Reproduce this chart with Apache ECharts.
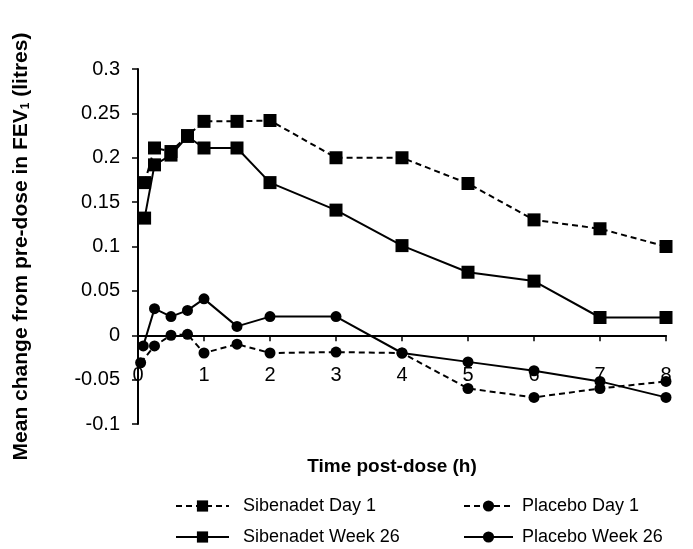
<!DOCTYPE html>
<html>
<head>
<meta charset="utf-8">
<script src="https://cdn.jsdelivr.net/npm/echarts@6/dist/echarts.min.js"></script>
<style>html,body{margin:0;padding:0;background:#fff}#c{width:693px;height:549px}</style>
</head>
<body>
<div id="c"></div>
<script>
const timesSibenadet = [0.1, 0.25, 0.5, 0.75, 1, 1.5, 2, 3, 4, 5, 6, 7, 8];
const timesPlaceboDay1 = [0.04, 0.25, 0.5, 0.75, 1, 1.5, 2, 3, 4, 5, 6, 7, 8];
const timesPlaceboWeek26 = [0.08, 0.25, 0.5, 0.75, 1, 1.5, 2, 3, 4, 5, 6, 7, 8];
const sibenadetDay1 = [0.172, 0.211, 0.207, 0.225, 0.241, 0.241, 0.242, 0.200, 0.200, 0.171, 0.130, 0.120, 0.100];
const sibenadetWeek26 = [0.132, 0.192, 0.203, 0.224, 0.211, 0.211, 0.172, 0.141, 0.101, 0.071, 0.061, 0.020, 0.020];
const placeboDay1 = [-0.031, -0.012, 0.000, 0.001, -0.020, -0.010, -0.020, -0.019, -0.020, -0.060, -0.070, -0.060, -0.052];
const placeboWeek26 = [-0.012, 0.030, 0.021, 0.028, 0.041, 0.010, 0.021, 0.021, -0.020, -0.030, -0.040, -0.052, -0.070];
const seriesNames = ['Sibenadet Day 1', 'Sibenadet Week 26', 'Placebo Day 1', 'Placebo Week 26'];
const xTitle = 'Time post-dose (h)';

const zip = (xs, ys) => xs.map((x, i) => [x, ys[i]]);
const font = 'Liberation Sans, Arial, sans-serif';

function mk(name, xs, ys, symbol, dashed, size) {
  return {
    name, type: 'line', data: zip(xs, ys), symbol, symbolSize: size,
    itemStyle: { color: '#000' },
    lineStyle: { color: '#000', width: 2, type: dashed ? [6, 4] : 'solid' },
    emphasis: { disabled: true }, animation: false
  };
}

const chart = echarts.init(document.getElementById('c'));
chart.setOption({
  backgroundColor: '#fff',
  animation: false,
  grid: { left: 138, right: 27, top: 69, bottom: 125, outerBoundsMode: 'none', containLabel: false },
  xAxis: {
    type: 'value', min: 0, max: 8, interval: 1,
    name: xTitle, nameLocation: 'middle', nameGap: 33,
    nameTextStyle: { fontFamily: font, fontSize: 19, fontWeight: 'bold', color: '#000', padding: [0, 20, 0, 0] },
    axisLine: { onZero: true, lineStyle: { color: '#000', width: 2 } },
    axisTick: { show: true, length: 6, lineStyle: { color: '#000', width: 1.5 } },
    axisLabel: { margin: -59, fontFamily: font, fontSize: 20, color: '#000' },
    splitLine: { show: false }
  },
  yAxis: {
    type: 'value', min: -0.1, max: 0.3, interval: 0.05,
    name: 'Mean change from pre-dose in FEV{sub|1} (litres)',
    nameLocation: 'middle', nameRotate: 90, nameGap: 106,
    nameTextStyle: {
      fontFamily: font, fontSize: 21, fontWeight: 'bold', color: '#000',
      rich: { sub: { fontFamily: font, fontSize: 12, fontWeight: 'bold', color: '#000', padding: [10, 0, 0, 0] } }
    },
    axisLine: { show: true, onZero: false, lineStyle: { color: '#000', width: 2 } },
    axisTick: { show: true, length: 6, lineStyle: { color: '#000', width: 1.5 } },
    axisLabel: { margin: 18, fontFamily: font, fontSize: 20, color: '#000',
      formatter: v => String(parseFloat(v.toFixed(2))) },
    splitLine: { show: false }
  },
  legend: [
    {
      data: [seriesNames[0], seriesNames[1]], orient: 'vertical', left: 175, top: 497, height: 90, padding: 0,
      itemWidth: 53, itemHeight: 14, itemGap: 13, selectedMode: false,
      textStyle: { fontFamily: font, fontSize: 18, color: '#000', padding: [0, 0, 0, 9], lineHeight: 18 }
    },
    {
      data: [seriesNames[2], seriesNames[3]], orient: 'vertical', left: 463, top: 497, height: 90, padding: 0,
      itemWidth: 49, itemHeight: 14, itemGap: 13, selectedMode: false,
      textStyle: { fontFamily: font, fontSize: 18, color: '#000', padding: [0, 0, 0, 4], lineHeight: 18 }
    }
  ],
  series: [
    mk(seriesNames[0], timesSibenadet, sibenadetDay1, 'rect', true, 13),
    mk(seriesNames[1], timesSibenadet, sibenadetWeek26, 'rect', false, 13),
    mk(seriesNames[2], timesPlaceboDay1, placeboDay1, 'circle', true, 11),
    mk(seriesNames[3], timesPlaceboWeek26, placeboWeek26, 'circle', false, 11)
  ]
});
</script>
</body>
</html>
